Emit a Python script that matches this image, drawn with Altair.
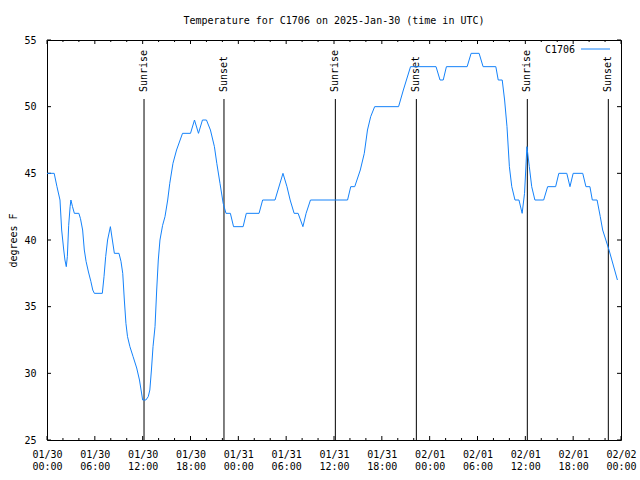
import json
import altair as alt
import pandas as pd

# ---- data (hours since 2025-01-30 00:00 UTC, degrees F) ----
series_name = "C1706"
hours = [0.0, 0.9, 1.25, 1.63, 1.84, 2.1, 2.25, 2.42, 2.55, 2.72, 2.9, 3.0, 3.2, 3.43, 4.0, 4.2,
         4.47, 4.68, 4.9, 5.2, 5.5, 5.74, 5.94, 6.94, 7.15, 7.36, 7.6, 7.95, 8.2, 8.45, 9.03,
         9.28, 9.5, 9.7, 9.9, 10.1, 10.4, 10.8, 11.25, 11.6, 11.8, 12.0, 12.4, 12.7, 12.9, 13.1,
         13.3, 13.55, 13.76, 13.96, 14.17, 14.5, 14.8, 15.14, 15.4, 15.8, 16.25, 16.7, 17.0,
         18.0, 18.5, 19.0, 19.5, 20.0, 20.5, 21.0, 21.3, 21.7, 22.1, 22.45, 23.0, 23.4, 24.6,
         25.0, 26.6, 27.05, 28.6, 29.6, 30.1, 30.5, 31.0, 31.5, 32.1, 32.5, 33.05, 37.7, 38.1,
         38.6, 39.3, 39.8, 40.2, 40.6, 41.1, 44.1, 44.7, 45.6, 48.8, 49.3, 49.7, 50.1, 52.7,
         53.2, 54.2, 54.7, 56.3, 56.6, 57.1, 57.4, 57.7, 58.0, 58.3, 58.7, 59.2, 59.6, 59.9,
         60.2, 60.5, 60.8, 61.2, 62.3, 62.8, 63.8, 64.2, 65.2, 65.6, 66.0, 67.2, 67.6, 68.1,
         68.4, 69.0, 69.4, 69.7, 70.5, 71.55]
temps = [45, 45, 44, 43, 40.75, 39.25, 38.5, 38, 38.75, 41.1, 42.5, 43, 42.5, 42, 42, 41.6,
         40.75, 39.25, 38.4, 37.6, 36.9, 36.25, 36, 36, 37.25, 38.75, 40, 41, 40, 39, 39,
         38.4, 37.5, 35.5, 33.75, 32.75, 32, 31.25, 30.4, 29.5, 28.75, 28, 28, 28.25, 28.75, 30.25,
         32, 33.5, 36.25, 38.5, 40, 41.1, 41.75, 43, 44.25, 45.75, 46.75, 47.5, 48,
         48, 49, 48, 49, 49, 48.25, 47, 45.75, 44.25, 42.75, 42, 42, 41, 41,
         42, 42, 43, 43, 45, 44, 43, 42, 42, 41, 42, 43, 43, 44,
         44, 45.25, 46.5, 48.25, 49.25, 50, 50, 51.25, 53, 53, 52, 52, 53, 53,
         54, 54, 53, 53, 52, 52, 50.5, 48.5, 45.5, 44, 43, 43, 42, 43.5,
         47, 45.5, 44, 43, 43, 44, 44, 45, 45, 44, 45, 45, 44, 44,
         43, 43, 41.75, 40.75, 39.25, 37]

sun_labels = ["Sunrise", "Sunset", "Sunrise", "Sunset", "Sunrise", "Sunset"]
sun_hours = [12.17, 22.2, 36.17, 46.33, 60.25, 70.41]

x_tick_hours = [0, 6, 12, 18, 24, 30, 36, 42, 48, 54, 60, 66, 72]
x_minor_hours = [2, 4, 8, 10, 14, 16, 20, 22, 26, 28, 32, 34, 38, 40, 44, 46, 50, 52, 56, 58, 62, 64, 68, 70]
x_date_labels = ["01/30", "01/30", "01/30", "01/30", "01/31", "01/31", "01/31", "01/31",
                 "02/01", "02/01", "02/01", "02/01", "02/02"]
x_time_labels = ["00:00", "06:00", "12:00", "18:00", "00:00", "06:00", "12:00", "18:00",
                 "00:00", "06:00", "12:00", "18:00", "00:00"]
y_ticks = [25, 30, 35, 40, 45, 50, 55]

title_text = "Temperature for C1706 on 2025-Jan-30 (time in UTC)"
y_title = "degrees F"

# ---- style ----
FONT = "DejaVu Sans Mono"
BLUE = "#1482fa"
W, H = 574, 400

df = pd.DataFrame({"h": hours, "T": temps})
sun_df = pd.DataFrame({"h": sun_hours, "label": sun_labels})
major_df = pd.DataFrame({"h": x_tick_hours})
minor_df = pd.DataFrame({"h": x_minor_hours})
ytick_df = pd.DataFrame({"T": y_ticks})
legend_df = pd.DataFrame({"name": [series_name]})

xscale = alt.Scale(domain=[0, 72], nice=False, zero=False)
yscale = alt.Scale(domain=[25, 55], nice=False, zero=False)

label_expr = ("[" + json.dumps(x_date_labels) + "[round(datum.value/6)], "
              + json.dumps(x_time_labels) + "[round(datum.value/6)]]")

xaxis = alt.Axis(values=x_tick_hours, labelExpr=label_expr, ticks=False, tickSize=0,
                 domain=False, grid=False, title=None, labelFont=FONT, labelFontSize=10,
                 labelColor="black", labelPadding=9, labelLineHeight=12,
                 labelFlush=False, labelOverlap=False)
yaxis = alt.Axis(values=y_ticks, ticks=False, tickSize=0, domain=False, grid=False,
                 title=y_title, titleFont=FONT, titleFontSize=10, titleFontWeight="normal",
                 titleColor="black", titleX=-34, titleY=200, titleAngle=270,
                 titleBaseline="middle", titleAlign="center",
                 labelFont=FONT, labelFontSize=10, labelColor="black", labelPadding=11)

X = alt.X("h:Q", scale=xscale, axis=xaxis)
Y = alt.Y("T:Q", scale=yscale, axis=yaxis)

line = alt.Chart(df).mark_line(color=BLUE, strokeWidth=1, interpolate="linear").encode(x=X, y=Y)

sun_rules = alt.Chart(sun_df).mark_rule(color="black", strokeWidth=1).encode(
    x=X, y=alt.value(59), y2=alt.value(H))
sun_text = alt.Chart(sun_df).mark_text(angle=270, align="left", baseline="middle",
                                       font=FONT, fontSize=10, color="black").encode(
    x=X, y=alt.value(52), text="label:N")

maj_bot = alt.Chart(major_df).mark_rule(color="black").encode(x=X, y=alt.value(H), y2=alt.value(H - 4))
maj_top = alt.Chart(major_df).mark_rule(color="black").encode(x=X, y=alt.value(0), y2=alt.value(4))
min_bot = alt.Chart(minor_df).mark_rule(color="black").encode(x=X, y=alt.value(H), y2=alt.value(H - 2))
min_top = alt.Chart(minor_df).mark_rule(color="black").encode(x=X, y=alt.value(0), y2=alt.value(2))
y_left = alt.Chart(ytick_df).mark_rule(color="black").encode(y=Y, x=alt.value(0), x2=alt.value(4))
y_right = alt.Chart(ytick_df).mark_rule(color="black").encode(y=Y, x=alt.value(W), x2=alt.value(W - 4))

leg_text = alt.Chart(legend_df).mark_text(align="right", baseline="middle", font=FONT,
                                          fontSize=10, color="black").encode(
    x=alt.value(528), y=alt.value(10), text="name:N")
leg_line = alt.Chart(legend_df).mark_rule(color=BLUE, strokeWidth=1).encode(
    x=alt.value(534), x2=alt.value(563), y=alt.value(9))

chart = alt.layer(
    sun_rules, sun_text, maj_bot, maj_top, min_bot, min_top, y_left, y_right,
    line, leg_text, leg_line
).properties(
    width=W, height=H,
    title=alt.TitleParams(title_text, font=FONT, fontSize=10, fontWeight="normal",
                          color="black", anchor="middle", baseline="middle", offset=16, dy=12),
    autosize=alt.AutoSizeParams(type="none"),
    padding={"left": 47, "top": 40, "right": 19, "bottom": 40},
    background="white",
).configure_view(stroke="black", strokeWidth=1)

chart.save("out.html", embed_options={"renderer": "svg", "actions": False})
